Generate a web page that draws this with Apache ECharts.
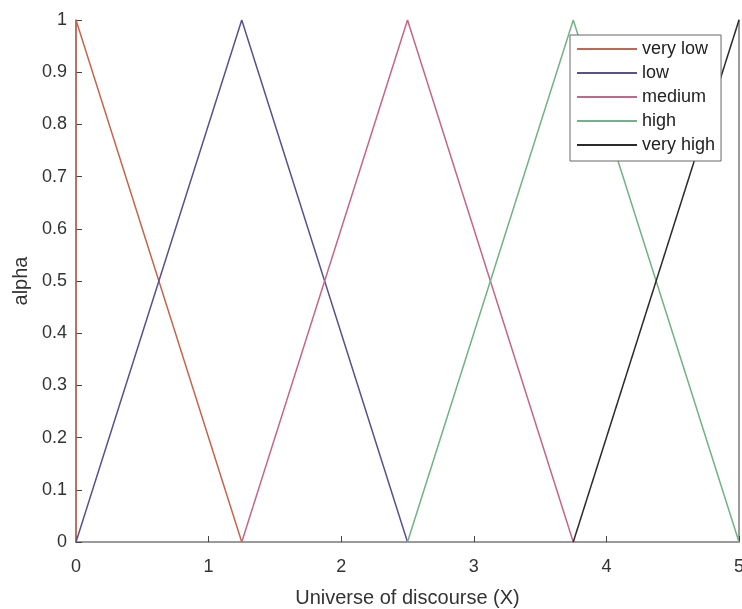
<!DOCTYPE html>
<html>
<head>
<meta charset="utf-8">
<script src="https://cdn.jsdelivr.net/npm/echarts@6/dist/echarts.min.js"></script>
<style>
  html, body { margin: 0; padding: 0; background: #fff; }
  #chart { width: 742px; height: 609px; }
</style>
</head>
<body>
<div id="chart"></div>
<script>
const seriesNames = ["very low", "low", "medium", "high", "very high"];
const seriesColors = ["#c4664c", "#5b4f8e", "#c4668a", "#6fb386", "#2b2b2b"];

// x and y of each membership function's corner points
const xVeryLow = [0, 0, 1.25];
const yVeryLow = [0, 1, 0];
const xLow = [0, 1.25, 2.5];
const yLow = [0, 1, 0];
const xMedium = [1.25, 2.5, 3.75];
const yMedium = [0, 1, 0];
const xHigh = [2.5, 3.75, 5];
const yHigh = [0, 1, 0];
const xVeryHigh = [3.75, 5];
const yVeryHigh = [0, 1];

const xTicks = [0, 1, 2, 3, 4, 5];
const yTicks = [0, 0.1, 0.2, 0.3, 0.4, 0.5, 0.6, 0.7, 0.8, 0.9, 1];

const pts = (xs, ys) => xs.map((x, i) => [x, ys[i]]);
const allData = [
  pts(xVeryLow, yVeryLow),
  pts(xLow, yLow),
  pts(xMedium, yMedium),
  pts(xHigh, yHigh),
  pts(xVeryHigh, yVeryHigh),
];

const font = "'Liberation Sans', Arial, sans-serif";
const axisGrey = "#7a7a7a";

const chart = echarts.init(document.getElementById("chart"));
chart.setOption({
  animation: false,
  textStyle: { fontFamily: font },
  grid: { left: 76, right: 3, top: 20, bottom: 67, outerBoundsMode: "none", containLabel: false },
  legend: {
    left: 570,
    top: 35,
    orient: "vertical",
    itemWidth: 60,
    itemHeight: 14,
    itemGap: 6,
    padding: [5, 6, 7, 6],
    borderColor: "#666",
    borderWidth: 1,
    backgroundColor: "#fff",
    itemStyle: { opacity: 0 },
    textStyle: { color: "#222", fontSize: 18, fontFamily: font },
    data: seriesNames,
  },
  xAxis: {
    type: "value",
    min: 0,
    max: 5,
    interval: 1,
    name: "Universe of discourse (X)",
    nameLocation: "middle",
    nameGap: 46,
    nameTextStyle: { color: "#333", fontSize: 20 },
    axisLine: { lineStyle: { color: axisGrey, width: 1.5 } },
    axisTick: { inside: true, length: 6, lineStyle: { color: "#444" } },
    axisLabel: {
      color: "#333",
      fontSize: 18,
      margin: 16,
      formatter: (v) => (xTicks.includes(v) ? String(v) : ""),
    },
    splitLine: { show: false },
  },
  yAxis: [
    {
      type: "value",
      min: 0,
      max: 1,
      interval: 0.1,
      name: "alpha",
      nameLocation: "middle",
      nameGap: 44,
      nameTextStyle: { color: "#333", fontSize: 20 },
      axisLine: { show: true, lineStyle: { color: axisGrey, width: 1.5 } },
      axisTick: { show: true, inside: true, length: 6, lineStyle: { color: "#444" } },
      axisLabel: {
        color: "#333",
        fontSize: 18,
        margin: 9,
        formatter: (v) => {
          const t = yTicks.find((y) => Math.abs(y - v) < 1e-9);
          return t === undefined ? "" : String(t);
        },
      },
      splitLine: { show: false },
    },
    {
      type: "value",
      min: 0,
      max: 1,
      position: "right",
      axisLine: { show: true, lineStyle: { color: axisGrey, width: 1.5 } },
      axisTick: { show: false },
      axisLabel: { show: false },
      splitLine: { show: false },
    },
  ],
  series: seriesNames.map((name, i) => ({
    name,
    type: "line",
    data: allData[i],
    symbol: "none",
    color: seriesColors[i],
    lineStyle: { width: 1.5, color: seriesColors[i] },
    z: 3,
  })),
});
</script>
</body>
</html>
